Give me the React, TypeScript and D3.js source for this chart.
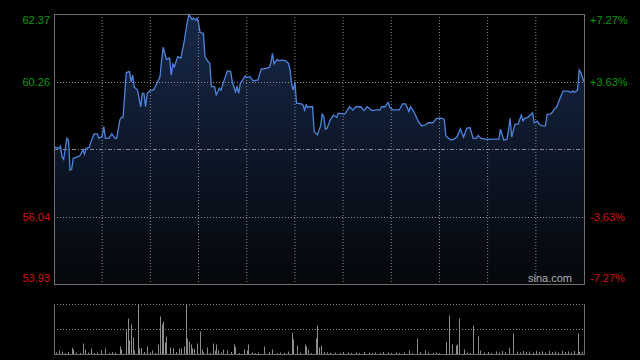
import * as d3 from 'd3'

// intraday minutes (HK session, 0..330) and price
const minutes = [0, 3, 4, 5, 6, 8, 9, 10, 11, 12, 16, 18, 19, 20, 22, 23, 25, 27, 28, 30, 31, 32, 34, 36, 38, 39, 41, 42, 43, 45, 47, 48, 49, 50, 52, 54, 55, 56, 57, 58, 60, 62, 64, 66, 67, 68, 70, 72, 73, 74, 75, 77, 79, 81, 83, 84, 86, 87, 88, 89, 90, 91, 93, 94, 96, 97, 98, 100, 101, 103, 104, 106, 108, 110, 111, 113, 114, 115, 116, 119, 120, 122, 124, 127, 129, 132, 134, 135, 136, 137, 139, 140, 142, 144, 146, 147, 148, 149, 150, 151, 154, 155, 156, 157, 158, 159, 161, 162, 164, 166, 167, 168, 169, 170, 172, 174, 176, 177, 181, 184, 186, 188, 191, 193, 195, 198, 201, 203, 204, 206, 208, 209, 211, 215, 217, 219, 221, 222, 224, 227, 229, 231, 233, 236, 238, 242, 243, 244, 247, 249, 251, 253, 255, 257, 259, 261, 263, 264, 266, 270, 274, 277, 278, 280, 282, 283, 284, 285, 287, 289, 291, 292, 293, 295, 298, 299, 301, 302, 304, 306, 307, 309, 310, 312, 313, 315, 317, 320, 322, 323, 324, 326, 327, 328, 330]
const prices = [58.22, 58.17, 58.24, 57.91, 57.83, 58.48, 58.43, 57.49, 57.52, 57.86, 57.93, 58.12, 57.99, 58.17, 58.2, 58.38, 58.62, 58.62, 58.48, 58.56, 58.85, 58.48, 58.48, 58.62, 58.48, 58.48, 59.06, 59.14, 59.14, 60.54, 60.57, 60.25, 60.46, 60.08, 59.99, 59.47, 59.89, 59.89, 59.47, 59.89, 59.99, 59.99, 60.2, 60.41, 60.93, 61.33, 60.95, 60.99, 60.46, 60.81, 60.72, 61.04, 60.99, 61.5, 62.13, 62.35, 62.2, 62.24, 62.18, 62.24, 62.08, 61.79, 61.77, 61.04, 60.88, 60.83, 60.1, 60.1, 59.84, 60.05, 59.99, 60.31, 60.59, 60.57, 60.25, 59.94, 60.1, 59.89, 60.2, 60.43, 60.39, 60.41, 60.28, 60.31, 60.65, 60.67, 60.7, 60.83, 61.14, 60.81, 60.95, 60.91, 60.93, 60.91, 60.83, 60.62, 60.15, 59.99, 60.25, 59.58, 59.56, 59.53, 59.37, 59.53, 59.45, 59.47, 59.47, 58.69, 58.59, 58.87, 59.24, 59.16, 58.77, 58.8, 59.06, 59.21, 59.14, 59.27, 59.24, 59.47, 59.37, 59.47, 59.47, 59.35, 59.47, 59.35, 59.37, 59.37, 59.47, 59.47, 59.61, 59.47, 59.37, 59.37, 59.56, 59.56, 59.32, 59.47, 59.32, 59.0, 58.87, 58.9, 58.97, 58.97, 59.11, 59.11, 59.06, 58.56, 58.43, 58.46, 58.53, 58.78, 58.52, 58.8, 58.82, 58.48, 58.48, 58.57, 58.48, 58.45, 58.46, 58.46, 58.77, 58.43, 58.45, 58.74, 59.11, 58.52, 58.93, 58.93, 59.21, 59.03, 59.11, 59.14, 59.28, 58.97, 59.02, 58.93, 58.87, 58.87, 59.23, 59.24, 59.28, 59.42, 59.47, 59.73, 59.96, 59.96, 59.92, 59.97, 59.92, 59.99, 60.62, 60.54, 60.25]

// volume bars: minute and volume (scale top = 100)
const volMinutes = [1, 3, 5, 7, 9, 11, 12, 14, 16, 18, 19, 21, 23, 25, 27, 29, 32, 34, 36, 38, 41, 42, 45, 46, 47, 48, 49, 50, 52, 53, 54, 56, 58, 60, 61, 63, 65, 66, 67, 68, 69, 70, 72, 74, 76, 78, 79, 81, 82, 83, 84, 85, 86, 87, 89, 91, 92, 93, 95, 97, 99, 100, 101, 102, 104, 105, 108, 110, 112, 113, 115, 118, 120, 121, 123, 125, 127, 131, 134, 136, 139, 141, 143, 146, 148, 149, 151, 153, 156, 157, 158, 160, 163, 164, 165, 166, 168, 170, 172, 175, 178, 180, 183, 185, 188, 190, 193, 196, 198, 200, 203, 205, 208, 210, 213, 215, 218, 221, 223, 226, 228, 231, 233, 236, 238, 240, 244, 246, 248, 250, 251, 252, 255, 257, 259, 261, 264, 265, 268, 270, 272, 275, 277, 279, 281, 283, 286, 288, 290, 292, 294, 296, 298, 300, 302, 304, 306, 308, 310, 312, 314, 316, 318, 320, 322, 324, 326, 327, 329]
const volumes = [3, 7, 5, 2, 4, 12, 9, 3, 2, 21, 9, 3, 11, 2, 3, 7, 11, 2, 4, 3, 15, 9, 49, 71, 27, 59, 33, 7, 130, 11, 12, 4, 15, 3, 7, 2, 19, 75, 59, 65, 23, 35, 13, 11, 4, 11, 11, 15, 140, 31, 25, 19, 11, 10, 21, 45, 9, 3, 13, 2, 21, 7, 19, 7, 3, 9, 7, 4, 19, 14, 2, 9, 7, 19, 3, 2, 3, 15, 4, 9, 2, 3, 2, 5, 43, 29, 17, 3, 19, 15, 9, 2, 31, 57, 13, 17, 4, 3, 2, 3, 2, 4, 3, 2, 3, 2, 4, 3, 2, 3, 2, 4, 3, 2, 3, 2, 3, 7, 2, 31, 4, 7, 3, 2, 3, 2, 24, 77, 19, 17, 19, 71, 9, 3, 2, 57, 35, 7, 3, 4, 2, 5, 3, 6, 4, 12, 41, 5, 3, 6, 4, 5, 3, 6, 4, 5, 3, 6, 4, 5, 3, 6, 4, 5, 3, 6, 41, 4, 5]

// axis labels
const priceTicks = [62.37, 60.26, 58.15, 56.04, 53.93]
const priceLabels = ['62.37', '60.26', '', '56.04', '53.93']
const pctLabels = ['+7.27%', '+3.63%', '', '-3.63%', '-7.27%']
const prevClose = 58.15
const timeTicks = [30, 60, 90, 120, 150, 180, 210, 240, 270, 300]

const W = 640
const H = 360
const L = 54
const R = 584
const T = 14
const B = 284
const VT = 304
const VB = 354
const font = 'Arial, "Liberation Sans", sans-serif'

export default function App() {
  const x = d3.scaleLinear().domain([0, 330]).range([L, R])
  const y = d3.scaleLinear().domain([53.93, 62.37]).range([B, T])
  const vy = d3.scaleLinear().domain([0, 100]).range([VB, VT]).clamp(true)

  const pts = minutes.map((m, i) => [m, prices[i]] as [number, number])
  const line = d3.line<[number, number]>().x((d) => x(d[0])).y((d) => y(d[1]))
  const area = d3
    .area<[number, number]>()
    .x((d) => x(d[0]))
    .y0(B)
    .y1((d) => y(d[1]))

  return (
    <svg
      width={W}
      height={H}
      style={{ position: 'absolute', left: 0, top: 0, display: 'block', background: '#000' }}
    >
      <defs>
        <linearGradient id="fill" x1="0" y1="0" x2="0" y2="1">
          <stop offset="0%" stopColor="#162848" />
          <stop offset="100%" stopColor="#05070b" />
        </linearGradient>
      </defs>
      <rect width={W} height={H} fill="#000" />

      <path d={area(pts) ?? ''} fill="url(#fill)" />

      {/* grid */}
      {timeTicks.map((t) => (
        <line key={t} x1={x(t)} x2={x(t)} y1={T} y2={B} stroke="#8a8a8a" strokeDasharray="1,2" />
      ))}
      {priceTicks.map((p, i) =>
        i === 0 || i === priceTicks.length - 1 ? null : (
          <line
            key={p}
            x1={L}
            x2={R}
            y1={Math.round(y(p)) + 0.5}
            y2={Math.round(y(p)) + 0.5}
            stroke="#8a8a8a"
            strokeDasharray={p === prevClose ? '4,2,1,2' : '1,2'}
          />
        )
      )}

      <path d={line(pts) ?? ''} fill="none" stroke="#4d84dc" strokeWidth={1.3} />

      <rect x={L + 0.5} y={T + 0.5} width={R - L} height={B - T} fill="none" stroke="#707070" />

      {/* labels */}
      {priceTicks.map((p, i) => {
        const ty = Math.min(Math.max(y(p), T + 6), B - 6)
        const col = p > prevClose ? '#0c9a0c' : '#d80c0c'
        return (
          <g key={p} fontFamily={font} fontSize={11} fill={col}>
            <text x={L - 4} y={ty} textAnchor="end" dominantBaseline="central">
              {priceLabels[i]}
            </text>
            <text x={R + 6} y={ty} dominantBaseline="central">
              {pctLabels[i]}
            </text>
          </g>
        )
      })}
      <text x={572} y={282} textAnchor="end" fontFamily={font} fontSize={11} fill="#b0b0b0">
        sina.com
      </text>

      {/* volume panel */}
      <line x1={L} x2={R} y1={VT + 0.5} y2={VT + 0.5} stroke="#8a8a8a" strokeDasharray="1,2" />
      <line
        x1={L}
        x2={R}
        y1={Math.round(vy(50)) + 0.5}
        y2={Math.round(vy(50)) + 0.5}
        stroke="#8a8a8a"
        strokeDasharray="1,2"
      />
      {volMinutes.map((m, i) => (
        <line
          key={m}
          x1={Math.round(x(m)) + 0.5}
          x2={Math.round(x(m)) + 0.5}
          y1={VB}
          y2={vy(volumes[i])}
          stroke="#8c8c8c"
        />
      ))}
      <line x1={L + 0.5} x2={L + 0.5} y1={VT} y2={VB} stroke="#707070" />
      <line x1={R + 0.5} x2={R + 0.5} y1={VT} y2={VB} stroke="#707070" />
      <line x1={L} x2={R + 1} y1={VB + 0.5} y2={VB + 0.5} stroke="#707070" />
    </svg>
  )
}
